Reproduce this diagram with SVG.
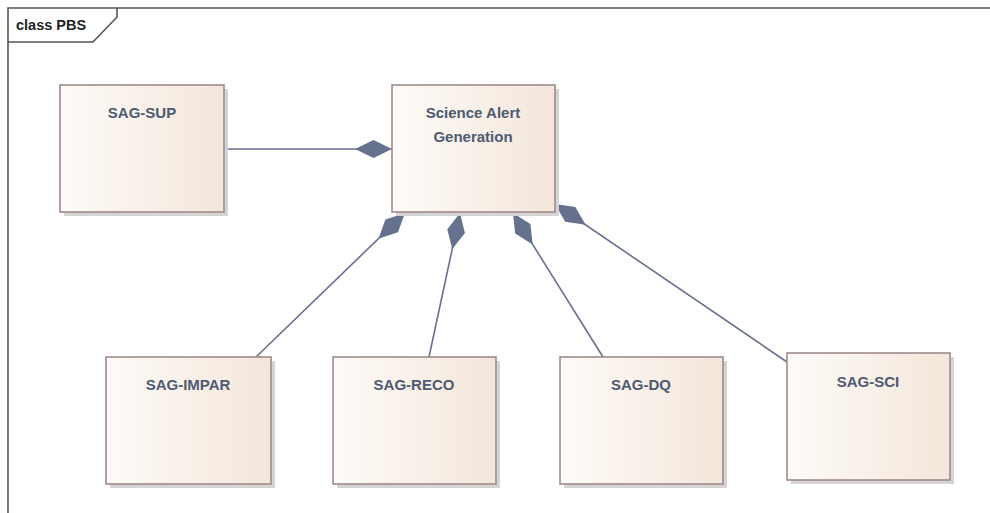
<svg xmlns="http://www.w3.org/2000/svg" width="990" height="513" viewBox="0 0 990 513">
<defs>
<linearGradient id="nodeFill" x1="0" y1="0" x2="1" y2="0">
<stop offset="0" stop-color="#fefbf8"/>
<stop offset="1" stop-color="#f3e6da"/>
</linearGradient>
<marker id="diamond" markerUnits="userSpaceOnUse" viewBox="0 0 37 18" refX="0" refY="9" markerWidth="37" markerHeight="18" orient="auto">
<path d="M0,9 L18.5,0 L37,9 L18.5,18 Z" fill="#66718d"/>
</marker>
</defs>
<style>
.frame{fill:none;stroke:#555555;stroke-width:1.6}
.shadow{fill:#d4d4d4}
.box{fill:url(#nodeFill);stroke:#a08a8c;stroke-width:1.6}
.label{font-family:"Liberation Sans",Arial,sans-serif;font-weight:bold;font-size:15px;fill:#4e5a72;text-anchor:middle}
.title{font-family:"Liberation Sans",Arial,sans-serif;font-weight:bold;font-size:14.5px;fill:#222222}
.conn{fill:none;stroke:#66718d;stroke-width:1.6;marker-start:url(#diamond)}
</style>
<rect width="990" height="513" fill="#ffffff"/>
<g id="frame">
<path class="frame" d="M8,513 L8,8 L990,8"/>
<path class="frame" d="M8,42 L93,42 L117,17 L117,8"/>
<text class="title" x="16" y="30">class PBS</text>
</g>
<g id="connectors">
<path class="conn" d="M392,149 L224,149"/>
<path class="conn" d="M405,213 L256,357"/>
<path class="conn" d="M460,213 L429,357"/>
<path class="conn" d="M513,213 L603,357"/>
<path class="conn" d="M555,204 L787,362"/>
</g>
<g id="sag-sup">
<rect class="shadow" x="64" y="89" width="164" height="127"/>
<rect class="box" x="60" y="85" width="164" height="127"/>
<text class="label" x="142" y="118">SAG-SUP</text>
</g>
<g id="science-alert-generation">
<rect class="shadow" x="396" y="89" width="163" height="127"/>
<rect class="box" x="392" y="85" width="163" height="127"/>
<text class="label" x="473" y="118">Science Alert</text>
<text class="label" x="473" y="142">Generation</text>
</g>
<g id="sag-impar">
<rect class="shadow" x="110" y="361" width="165" height="127"/>
<rect class="box" x="106" y="357" width="165" height="127"/>
<text class="label" x="188" y="390">SAG-IMPAR</text>
</g>
<g id="sag-reco">
<rect class="shadow" x="337" y="361" width="163" height="127"/>
<rect class="box" x="333" y="357" width="163" height="127"/>
<text class="label" x="414" y="390">SAG-RECO</text>
</g>
<g id="sag-dq">
<rect class="shadow" x="564" y="361" width="163" height="127"/>
<rect class="box" x="560" y="357" width="163" height="127"/>
<text class="label" x="641" y="390">SAG-DQ</text>
</g>
<g id="sag-sci">
<rect class="shadow" x="791" y="357" width="163" height="127"/>
<rect class="box" x="787" y="353" width="163" height="127"/>
<text class="label" x="868" y="387">SAG-SCI</text>
</g>
</svg>
